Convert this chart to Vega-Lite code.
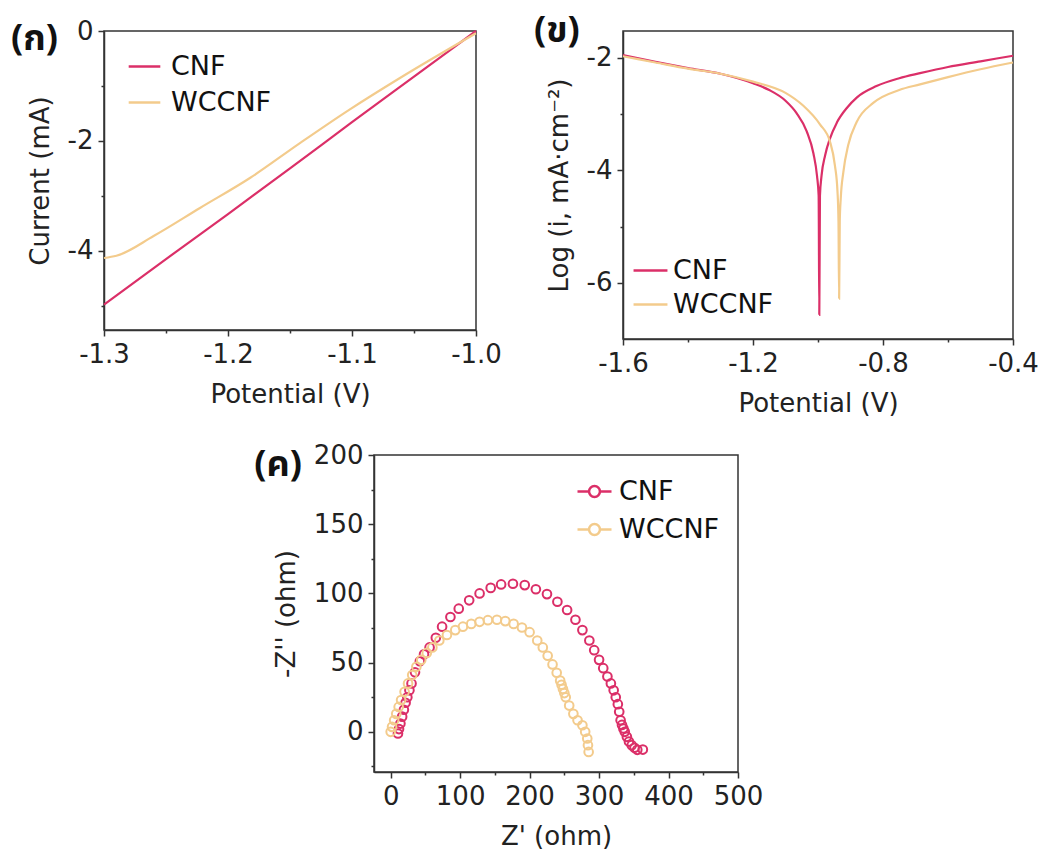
{
  "$schema": "https://vega.github.io/schema/vega-lite/v6.json",
  "background": "white",
  "padding": {"left": 10, "top": 12, "right": 2, "bottom": 2},
  "spacing": 24,
  "config": {
    "font": "DejaVu Sans",
    "view": {"stroke": "#333333", "strokeWidth": 1.5},
    "axis": {
      "labelFont": "DejaVu Sans", "labelFontSize": 26, "labelColor": "#222222",
      "titleFont": "DejaVu Sans", "titleFontSize": 26, "titleFontWeight": "normal", "titleColor": "#222222",
      "domainColor": "#333333", "domainWidth": 1.5, "tickColor": "#333333", "tickWidth": 1.5,
      "grid": false, "labelPadding": 5, "titlePadding": 14, "labelFlush": false, "labelOverlap": false
    },
    "legend": {"labelFont": "DejaVu Sans", "labelFontSize": 27, "labelColor": "#111111", "padding": 0, "labelOffset": 9, "symbolStrokeWidth": 2.5},
    "title": {"font": "Noto Sans Thai, Tahoma, DejaVu Sans, sans-serif", "fontSize": 36, "fontWeight": "bold", "color": "#111111", "anchor": "start", "frame": "bounds"}
  },
  "vconcat": [
    {
      "spacing": 147,
      "bounds": "flush",
      "hconcat": [
        {
          "width": 372, "height": 299,
          "title": {"text": "(ก)", "offset": -40, "dx": -16},
          "data": {"values": [
            {"potential": -1.3, "current": -4.98, "sample": "CNF"},
            {"potential": -1.25, "current": -4.15, "sample": "CNF"},
            {"potential": -1.2, "current": -3.33, "sample": "CNF"},
            {"potential": -1.15, "current": -2.5, "sample": "CNF"},
            {"potential": -1.1, "current": -1.66, "sample": "CNF"},
            {"potential": -1.05, "current": -0.83, "sample": "CNF"},
            {"potential": -1.0, "current": 0, "sample": "CNF"},
            {"potential": -1.3, "current": -4.13, "sample": "WCCNF"},
            {"potential": -1.29, "current": -4.09, "sample": "WCCNF"},
            {"potential": -1.26, "current": -3.73, "sample": "WCCNF"},
            {"potential": -1.2226, "current": -3.22, "sample": "WCCNF"},
            {"potential": -1.182, "current": -2.67, "sample": "WCCNF"},
            {"potential": -1.142, "current": -2.04, "sample": "WCCNF"},
            {"potential": -1.102, "current": -1.43, "sample": "WCCNF"},
            {"potential": -1.061, "current": -0.85, "sample": "WCCNF"},
            {"potential": -1.0, "current": -0.04, "sample": "WCCNF"}
          ]},
          "mark": {"type": "line", "strokeWidth": 2.2, "interpolate": "monotone"},
          "encoding": {
            "x": {"field": "potential", "type": "quantitative",
              "scale": {"domain": [-1.3, -1.0], "nice": false, "zero": false},
              "axis": {"title": "Potential (V)", "values": [-1.3, -1.25, -1.2, -1.15, -1.1, -1.05, -1.0], "format": ".1f",
                "labelExpr": "abs(datum.value*10-round(datum.value*10))<0.001 ? replace(datum.label,'−','-') : ''",
                "tickSize": {"condition": {"test": "abs(datum.value*10-round(datum.value*10))<0.001", "value": 6}, "value": 3}}},
            "y": {"field": "current", "type": "quantitative",
              "scale": {"domain": [-5.44, 0], "nice": false, "zero": false},
              "axis": {"title": "Current (mA)", "values": [0, -1, -2, -3, -4, -5],
                "labelExpr": "datum.value % 2 === 0 ? replace(datum.label,'−','-') : ''",
                "tickSize": {"condition": {"test": "datum.value % 2 === 0", "value": 6}, "value": 3}}},
            "color": {"field": "sample", "type": "nominal",
              "scale": {"domain": ["CNF", "WCCNF"], "range": ["#DB2F68", "#F3CB8C"]},
              "legend": {"title": null, "orient": "none", "legendX": 23, "legendY": 18, "symbolType": "stroke", "symbolSize": 1000, "rowPadding": 5}}
          }
        },
        {
          "width": 390, "height": 308,
          "title": {"text": "(ข)", "offset": -19, "dx": -12},
          "data": {"values": [
            {"potential": -1.6, "logi": -1.95, "sample": "CNF"},
            {"potential": -1.5, "logi": -2.07, "sample": "CNF"},
            {"potential": -1.4, "logi": -2.18, "sample": "CNF"},
            {"potential": -1.3, "logi": -2.28, "sample": "CNF"},
            {"potential": -1.2, "logi": -2.45, "sample": "CNF"},
            {"potential": -1.15, "logi": -2.57, "sample": "CNF"},
            {"potential": -1.1, "logi": -2.76, "sample": "CNF"},
            {"potential": -1.066, "logi": -2.98, "sample": "CNF"},
            {"potential": -1.035, "logi": -3.3, "sample": "CNF"},
            {"potential": -1.014, "logi": -3.7, "sample": "CNF"},
            {"potential": -1.003, "logi": -4.1, "sample": "CNF"},
            {"potential": -0.998, "logi": -4.45, "sample": "CNF"},
            {"potential": -0.996, "logi": -6.57, "sample": "CNF"},
            {"potential": -0.994, "logi": -4.45, "sample": "CNF"},
            {"potential": -0.989, "logi": -4.09, "sample": "CNF"},
            {"potential": -0.978, "logi": -3.73, "sample": "CNF"},
            {"potential": -0.963, "logi": -3.43, "sample": "CNF"},
            {"potential": -0.942, "logi": -3.15, "sample": "CNF"},
            {"potential": -0.91, "logi": -2.88, "sample": "CNF"},
            {"potential": -0.88, "logi": -2.7, "sample": "CNF"},
            {"potential": -0.82, "logi": -2.5, "sample": "CNF"},
            {"potential": -0.75, "logi": -2.36, "sample": "CNF"},
            {"potential": -0.686, "logi": -2.27, "sample": "CNF"},
            {"potential": -0.6, "logi": -2.16, "sample": "CNF"},
            {"potential": -0.5, "logi": -2.06, "sample": "CNF"},
            {"potential": -0.4, "logi": -1.96, "sample": "CNF"},
            {"potential": -1.6, "logi": -1.97, "sample": "WCCNF"},
            {"potential": -1.5, "logi": -2.08, "sample": "WCCNF"},
            {"potential": -1.4, "logi": -2.19, "sample": "WCCNF"},
            {"potential": -1.3, "logi": -2.28, "sample": "WCCNF"},
            {"potential": -1.2, "logi": -2.42, "sample": "WCCNF"},
            {"potential": -1.1, "logi": -2.62, "sample": "WCCNF"},
            {"potential": -1.045, "logi": -2.85, "sample": "WCCNF"},
            {"potential": -0.994, "logi": -3.18, "sample": "WCCNF"},
            {"potential": -0.963, "logi": -3.49, "sample": "WCCNF"},
            {"potential": -0.948, "logi": -3.91, "sample": "WCCNF"},
            {"potential": -0.94, "logi": -4.38, "sample": "WCCNF"},
            {"potential": -0.937, "logi": -4.9, "sample": "WCCNF"},
            {"potential": -0.935, "logi": -6.28, "sample": "WCCNF"},
            {"potential": -0.933, "logi": -4.9, "sample": "WCCNF"},
            {"potential": -0.93, "logi": -4.5, "sample": "WCCNF"},
            {"potential": -0.922, "logi": -4.03, "sample": "WCCNF"},
            {"potential": -0.907, "logi": -3.55, "sample": "WCCNF"},
            {"potential": -0.881, "logi": -3.14, "sample": "WCCNF"},
            {"potential": -0.83, "logi": -2.8, "sample": "WCCNF"},
            {"potential": -0.75, "logi": -2.57, "sample": "WCCNF"},
            {"potential": -0.686, "logi": -2.47, "sample": "WCCNF"},
            {"potential": -0.6, "logi": -2.34, "sample": "WCCNF"},
            {"potential": -0.5, "logi": -2.2, "sample": "WCCNF"},
            {"potential": -0.4, "logi": -2.08, "sample": "WCCNF"}
          ]},
          "mark": {"type": "line", "strokeWidth": 2.2, "interpolate": "monotone"},
          "encoding": {
            "x": {"field": "potential", "type": "quantitative",
              "scale": {"domain": [-1.6, -0.4], "nice": false, "zero": false},
              "axis": {"title": "Potential (V)", "values": [-1.6, -1.4, -1.2, -1.0, -0.8, -0.6, -0.4], "format": ".1f",
                "labelExpr": "abs(datum.value/0.4-round(datum.value/0.4))<0.001 ? replace(datum.label,'−','-') : ''",
                "tickSize": {"condition": {"test": "abs(datum.value/0.4-round(datum.value/0.4))<0.001", "value": 6}, "value": 3}}},
            "y": {"field": "logi", "type": "quantitative",
              "scale": {"domain": [-7, -1.52], "nice": false, "zero": false},
              "axis": {"title": "Log (i, mA·cm⁻²)", "values": [-2, -3, -4, -5, -6],
                "labelExpr": "datum.value % 2 === 0 ? replace(datum.label,'−','-') : ''",
                "tickSize": {"condition": {"test": "datum.value % 2 === 0", "value": 6}, "value": 3}}},
            "color": {"field": "sample", "type": "nominal",
              "scale": {"domain": ["CNF", "WCCNF"], "range": ["#DB2F68", "#F3CB8C"]},
              "legend": {"title": null, "orient": "none", "legendX": 9, "legendY": 221, "symbolType": "stroke", "symbolSize": 1150, "labelOffset": 4, "rowPadding": 2}}
          }
        }
      ],
      "resolve": {"scale": {"color": "independent"}, "legend": {"color": "independent"}}
    },
    {
      "spacing": 0,
      "hconcat": [
        {
          "width": 149, "height": 10,
          "view": {"stroke": null},
          "data": {"values": []},
          "mark": {"type": "point", "opacity": 0},
          "encoding": {}
        },
        {
          "width": 364, "height": 317,
          "title": {"text": "(ค)", "offset": -42, "dx": -19},
          "data": {"values": [
            {"zre": 10.5, "zim": -1.2, "sample": "CNF"},
            {"zre": 12, "zim": 2, "sample": "CNF"},
            {"zre": 14, "zim": 6, "sample": "CNF"},
            {"zre": 16.5, "zim": 11, "sample": "CNF"},
            {"zre": 19, "zim": 16, "sample": "CNF"},
            {"zre": 21.5, "zim": 21, "sample": "CNF"},
            {"zre": 24, "zim": 25, "sample": "CNF"},
            {"zre": 27, "zim": 30, "sample": "CNF"},
            {"zre": 30, "zim": 35, "sample": "CNF"},
            {"zre": 35, "zim": 43, "sample": "CNF"},
            {"zre": 42, "zim": 51, "sample": "CNF"},
            {"zre": 48, "zim": 56, "sample": "CNF"},
            {"zre": 56, "zim": 61, "sample": "CNF"},
            {"zre": 65, "zim": 68, "sample": "CNF"},
            {"zre": 74, "zim": 76, "sample": "CNF"},
            {"zre": 86, "zim": 83, "sample": "CNF"},
            {"zre": 98, "zim": 89, "sample": "CNF"},
            {"zre": 113, "zim": 95, "sample": "CNF"},
            {"zre": 128, "zim": 100, "sample": "CNF"},
            {"zre": 144, "zim": 104, "sample": "CNF"},
            {"zre": 159, "zim": 106.5, "sample": "CNF"},
            {"zre": 176, "zim": 107, "sample": "CNF"},
            {"zre": 193, "zim": 106, "sample": "CNF"},
            {"zre": 209, "zim": 103, "sample": "CNF"},
            {"zre": 225, "zim": 99.5, "sample": "CNF"},
            {"zre": 240, "zim": 94, "sample": "CNF"},
            {"zre": 254, "zim": 88, "sample": "CNF"},
            {"zre": 266, "zim": 81, "sample": "CNF"},
            {"zre": 276, "zim": 73.5, "sample": "CNF"},
            {"zre": 286, "zim": 66, "sample": "CNF"},
            {"zre": 293, "zim": 59, "sample": "CNF"},
            {"zre": 300, "zim": 52, "sample": "CNF"},
            {"zre": 306, "zim": 46, "sample": "CNF"},
            {"zre": 312, "zim": 40, "sample": "CNF"},
            {"zre": 317, "zim": 35, "sample": "CNF"},
            {"zre": 321, "zim": 30, "sample": "CNF"},
            {"zre": 324, "zim": 25, "sample": "CNF"},
            {"zre": 327, "zim": 20, "sample": "CNF"},
            {"zre": 329, "zim": 14.5, "sample": "CNF"},
            {"zre": 331, "zim": 8.4, "sample": "CNF"},
            {"zre": 333, "zim": 5, "sample": "CNF"},
            {"zre": 335, "zim": 2.4, "sample": "CNF"},
            {"zre": 337, "zim": 0, "sample": "CNF"},
            {"zre": 340, "zim": -3.6, "sample": "CNF"},
            {"zre": 343, "zim": -7, "sample": "CNF"},
            {"zre": 347, "zim": -9.6, "sample": "CNF"},
            {"zre": 351, "zim": -11.5, "sample": "CNF"},
            {"zre": 355, "zim": -13, "sample": "CNF"},
            {"zre": 363, "zim": -12.8, "sample": "CNF"},
            {"zre": 0, "zim": 0, "sample": "WCCNF"},
            {"zre": 2, "zim": 3.6, "sample": "WCCNF"},
            {"zre": 5, "zim": 8.4, "sample": "WCCNF"},
            {"zre": 8, "zim": 13, "sample": "WCCNF"},
            {"zre": 11.5, "zim": 18, "sample": "WCCNF"},
            {"zre": 15, "zim": 23, "sample": "WCCNF"},
            {"zre": 20, "zim": 29, "sample": "WCCNF"},
            {"zre": 25, "zim": 35, "sample": "WCCNF"},
            {"zre": 31, "zim": 41, "sample": "WCCNF"},
            {"zre": 37, "zim": 47, "sample": "WCCNF"},
            {"zre": 44, "zim": 52, "sample": "WCCNF"},
            {"zre": 52, "zim": 57, "sample": "WCCNF"},
            {"zre": 60, "zim": 61, "sample": "WCCNF"},
            {"zre": 70, "zim": 66, "sample": "WCCNF"},
            {"zre": 81, "zim": 70, "sample": "WCCNF"},
            {"zre": 93, "zim": 73.5, "sample": "WCCNF"},
            {"zre": 104, "zim": 76, "sample": "WCCNF"},
            {"zre": 116, "zim": 78, "sample": "WCCNF"},
            {"zre": 128, "zim": 79.5, "sample": "WCCNF"},
            {"zre": 140, "zim": 80.7, "sample": "WCCNF"},
            {"zre": 153, "zim": 81, "sample": "WCCNF"},
            {"zre": 165, "zim": 80, "sample": "WCCNF"},
            {"zre": 177, "zim": 78, "sample": "WCCNF"},
            {"zre": 189, "zim": 75.4, "sample": "WCCNF"},
            {"zre": 200, "zim": 72, "sample": "WCCNF"},
            {"zre": 211, "zim": 66, "sample": "WCCNF"},
            {"zre": 219, "zim": 61, "sample": "WCCNF"},
            {"zre": 226, "zim": 55, "sample": "WCCNF"},
            {"zre": 233, "zim": 48.7, "sample": "WCCNF"},
            {"zre": 239, "zim": 42.7, "sample": "WCCNF"},
            {"zre": 244, "zim": 37, "sample": "WCCNF"},
            {"zre": 246, "zim": 34, "sample": "WCCNF"},
            {"zre": 248, "zim": 31, "sample": "WCCNF"},
            {"zre": 250, "zim": 28, "sample": "WCCNF"},
            {"zre": 252, "zim": 25, "sample": "WCCNF"},
            {"zre": 257, "zim": 19, "sample": "WCCNF"},
            {"zre": 263, "zim": 13, "sample": "WCCNF"},
            {"zre": 269, "zim": 8.4, "sample": "WCCNF"},
            {"zre": 276, "zim": 4.8, "sample": "WCCNF"},
            {"zre": 280, "zim": 0, "sample": "WCCNF"},
            {"zre": 283, "zim": -4.8, "sample": "WCCNF"},
            {"zre": 284, "zim": -9.6, "sample": "WCCNF"},
            {"zre": 285, "zim": -14.5, "sample": "WCCNF"}
          ]},
          "mark": {"type": "point", "filled": false, "size": 75, "strokeWidth": 2, "opacity": 1},
          "encoding": {
            "x": {"field": "zre", "type": "quantitative",
              "scale": {"domain": [-24, 500], "nice": false, "zero": false},
              "axis": {"title": "Z' (ohm)", "values": [0, 50, 100, 150, 200, 250, 300, 350, 400, 450, 500],
                "labelExpr": "datum.value % 100 === 0 ? datum.label : ''",
                "tickSize": {"condition": {"test": "datum.value % 100 === 0", "value": 6}, "value": 3}}},
            "y": {"field": "zim", "type": "quantitative",
              "scale": {"domain": [-29, 200], "nice": false, "zero": false},
              "axis": {"title": "-Z'' (ohm)", "values": [-25, 0, 25, 50, 75, 100, 125, 150, 175, 200],
                "labelExpr": "datum.value % 50 === 0 ? datum.label : ''",
                "tickSize": {"condition": {"test": "datum.value % 50 === 0", "value": 6}, "value": 3}}},
            "color": {"field": "sample", "type": "nominal",
              "scale": {"domain": ["CNF", "WCCNF"], "range": ["#DB2F68", "#F3CB8C"]},
              "legend": {"title": null, "orient": "none", "legendX": 202, "legendY": 18, "symbolType": "M-1,0L-0.32,0M0.32,0L1,0M0.32,0A0.32,0.32,0,1,1,-0.32,0A0.32,0.32,0,1,1,0.32,0", "symbolSize": 1156, "symbolStrokeWidth": 2.5, "labelOffset": 6, "rowPadding": 6}}
          }
        }
      ],
      "resolve": {"scale": {"color": "independent"}, "legend": {"color": "independent"}}
    }
  ],
  "resolve": {"scale": {"color": "independent"}, "legend": {"color": "independent"}}
}
